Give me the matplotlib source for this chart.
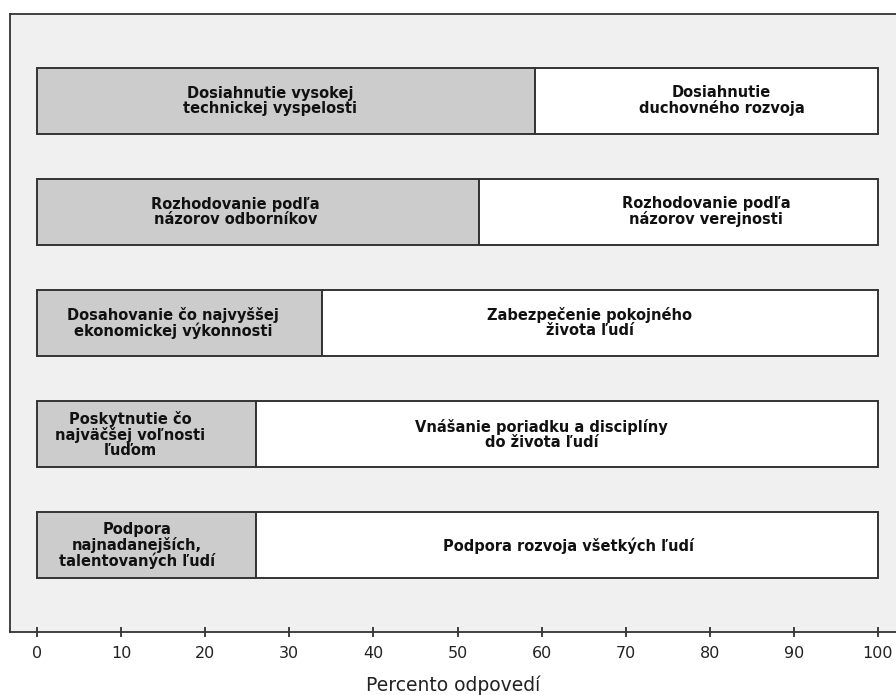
import numpy as np
import matplotlib.pyplot as plt

# share of answers for the first option (gray part); the rest goes to the second option
left_labels = [
    "Dosiahnutie vysokej\ntechnickej vyspelosti",
    "Rozhodovanie podľa\nnázorov odborníkov",
    "Dosahovanie čo najvyššej\nekonomickej výkonnosti",
    "Poskytnutie čo\nnajväčšej voľnosti\nľuďom",
    "Podpora\nnajnadanejších,\ntalentovaných ľudí",
]
right_labels = [
    "Dosiahnutie\nduchovného rozvoja",
    "Rozhodovanie podľa\nnázorov verejnosti",
    "Zabezpečenie pokojného\nživota ľudí",
    "Vnášanie poriadku a disciplíny\ndo života ľudí",
    "Podpora rozvoja všetkých ľudí",
]
left_vals = [59.2, 52.6, 33.9, 26.0, 26.0]
right_vals = [100 - v for v in left_vals]
xticks = [0, 10, 20, 30, 40, 50, 60, 70, 80, 90, 100]

# small nudges of the in-bar labels (data units), as placed in the original
left_shift = [-1.9, -2.7, -0.8, -1.9, -1.1]
right_shift = [1.8, 3.3, -1.2, -3.0, 0.2]

plt.rcParams['font.family'] = ['DejaVu Sans']

fig = plt.figure(figsize=(8.96, 6.95), dpi=100)
ax = fig.add_axes([10 / 896, 1 - 632 / 695, 1 - 10 / 896, (632 - 14) / 695])
ax.set_facecolor('#f0f0f0')

y = np.arange(len(left_vals))
h = 0.595
ax.barh(y, left_vals, height=h, color='#cccccc', edgecolor='#333333', linewidth=1.4)
ax.barh(y, right_vals, left=left_vals, height=h, color='white', edgecolor='#333333', linewidth=1.4)

for i in range(len(y)):
    ax.text(left_vals[i] / 2 + left_shift[i], y[i], left_labels[i], ha='center', va='center',
            fontsize=10.5, fontweight='bold', linespacing=1.0, color='#111111')
    ax.text(left_vals[i] + right_vals[i] / 2 + right_shift[i], y[i], right_labels[i],
            ha='center', va='center',
            fontsize=10.5, fontweight='bold', linespacing=1.0, color='#111111')

x0 = -27 / 8.41
x1 = (896 - 37) / 8.41
ax.set_xlim(x0, x1)
ax.set_ylim(4.78, -0.78)
ax.set_yticks([])
ax.set_xticks(xticks)
ax.tick_params(axis='x', direction='inout', length=7.5, width=1.2, color='#222222',
               labelsize=11.5, labelcolor='#222222', pad=6)
ax.set_xlabel('Percento odpovedí', fontsize=13.5, color='#222222', labelpad=11)

ax.spines['right'].set_visible(False)
for s in ['left', 'top', 'bottom']:
    ax.spines[s].set_linewidth(1.3)
    ax.spines[s].set_color('#333333')

fig.savefig('out.png', dpi=100)
